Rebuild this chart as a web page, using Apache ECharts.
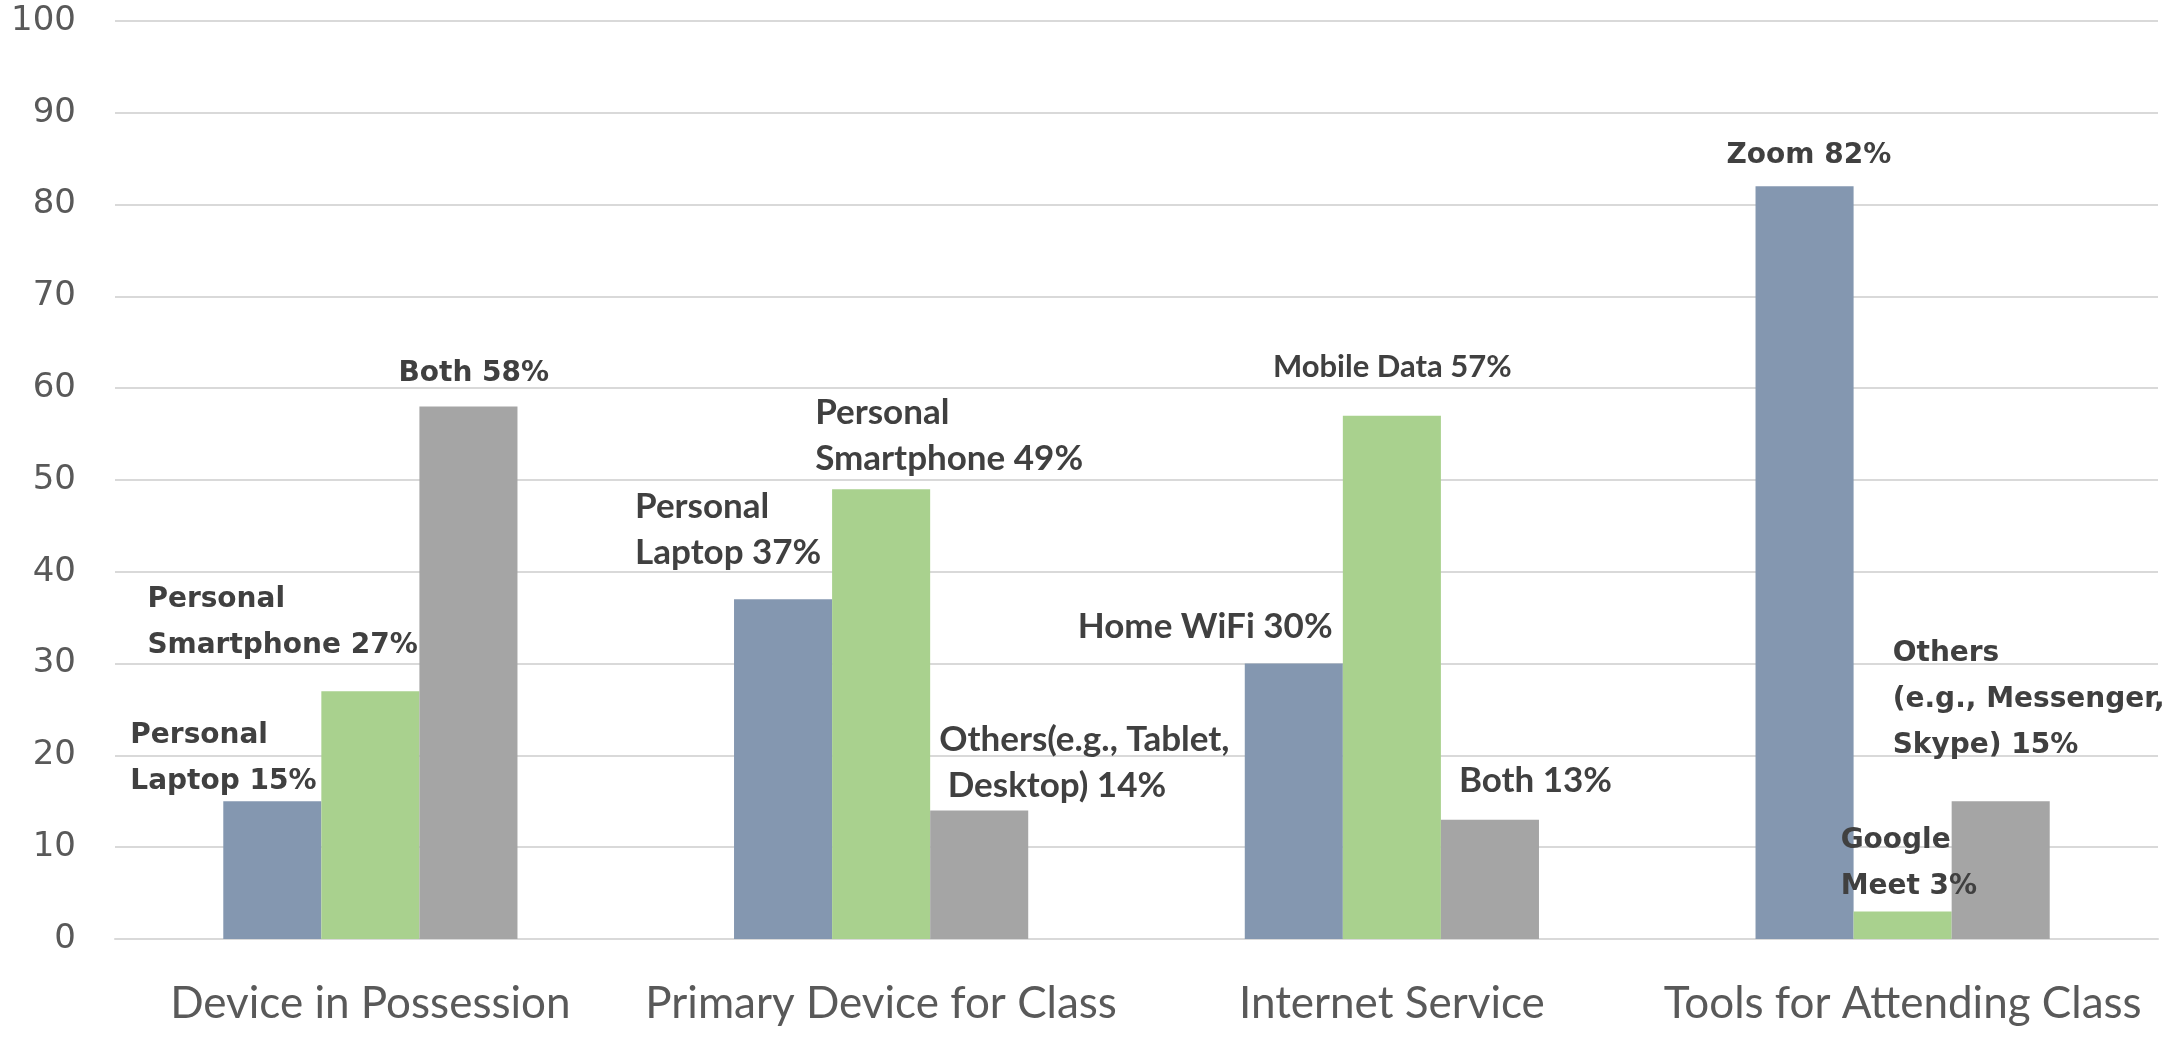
<!DOCTYPE html>
<html>
<head>
<meta charset="utf-8">
<script src="https://cdn.jsdelivr.net/npm/echarts@6/dist/echarts.min.js"></script>
<style>
  html, body { margin: 0; padding: 0; background: #ffffff; }
  #chart { width: 2174px; height: 1048px; }
</style>
</head>
<body>
<div id="chart"></div>
<script>
// ---- Data ----
const categories = ['Device in Possession', 'Primary Device for Class', 'Internet Service', 'Tools for Attending Class'];
const blueValues  = [15, 37, 30, 82];
const greenValues = [27, 49, 57, 3];
const grayValues  = [58, 14, 13, 15];
const blueLabels  = ['Personal\nLaptop 15%', 'Personal\nLaptop 37%', 'Home WiFi 30%', 'Zoom 82%'];
const greenLabels = ['Personal\nSmartphone 27%', 'Personal\nSmartphone 49%', 'Mobile Data 57%', 'Google\nMeet 3%'];
const grayLabels  = ['Both 58%', 'Others(e.g., Tablet,\n Desktop) 14%', 'Both 13%', 'Others\n(e.g., Messenger,\nSkype) 15%'];
const yMin = 0, yMax = 100, yStep = 10;

// ---- Label placement (offsets from bar top-centre, px) ----
const blueOffsets  = [[-142, 3], [-148, -24], [-216, -14], [-78, -8]];
const greenOffsets = [[-223, -22], [-66, -7], [-119, -26], [-62, -2]];
const grayOffsets  = [[-70, -10], [-40, -2], [-31, -16], [-108, -33]];
// label font style per category: wide bold (Verdana-like) or narrow (Calibri-like)
const catFontKind = ['wide', 'narrow', 'narrow', 'wide'];
const greenNarrowSize = [35, 35, 31, 35];

const fontStyles = {
  wide:   { fontFamily: 'DejaVu Sans', fontWeight: 'bold', fontSize: 28, lineHeight: 46, color: '#404040' },
  narrow: { fontFamily: 'Lato', fontWeight: 'bold', fontSize: 35, lineHeight: 46, color: '#404040' }
};

function buildData(values, labels, offsets, sizes) {
  return values.map((v, i) => {
    const st = Object.assign({}, fontStyles[catFontKind[i]]);
    if (sizes && catFontKind[i] === 'narrow') st.fontSize = sizes[i];
    return {
      value: v,
      label: Object.assign({
        show: true,
        position: 'top',
        distance: 0,
        align: 'left',
        verticalAlign: 'bottom',
        offset: offsets[i],
        formatter: labels[i]
      }, st)
    };
  });
}

const chart = echarts.init(document.getElementById('chart'), null, { renderer: 'canvas' });
chart.setOption({
  animation: false,
  backgroundColor: '#ffffff',
  grid: { left: 115, right: 16, top: 21, bottom: 109, containLabel: false },
  xAxis: {
    type: 'category',
    data: categories,
    axisLine: { show: true, lineStyle: { color: '#d9d9d9', width: 2 } },
    axisTick: { show: false },
    axisLabel: { interval: 0, color: '#595959', fontFamily: 'Lato', fontSize: 44, margin: 43 }
  },
  yAxis: {
    type: 'value',
    min: yMin, max: yMax, interval: yStep,
    axisLine: { show: false },
    axisTick: { show: false },
    splitLine: { show: true, lineStyle: { color: '#d9d9d9', width: 2 } },
    axisLabel: { color: '#595959', fontFamily: 'DejaVu Sans', fontSize: 34, margin: 39 }
  },
  series: [
    { type: 'bar', name: 'A', data: buildData(blueValues, blueLabels, blueOffsets),
      itemStyle: { color: '#8497B0' }, barGap: '0%', barCategoryGap: '42.4%' },
    { type: 'bar', name: 'B', data: buildData(greenValues, greenLabels, greenOffsets, greenNarrowSize),
      itemStyle: { color: '#A9D18E' }, barGap: '0%', barCategoryGap: '42.4%' },
    { type: 'bar', name: 'C', data: buildData(grayValues, grayLabels, grayOffsets),
      itemStyle: { color: '#A5A5A5' }, barGap: '0%', barCategoryGap: '42.4%' }
  ]
});
</script>
</body>
</html>
